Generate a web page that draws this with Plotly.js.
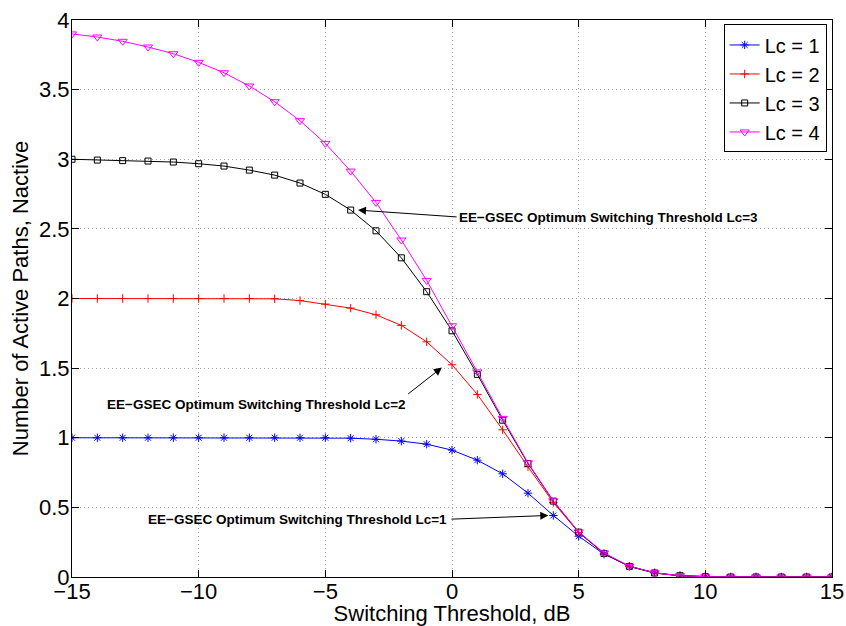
<!DOCTYPE html>
<html>
<head>
<meta charset="utf-8">
<script src="https://cdn.plot.ly/plotly-3.0.1.min.js"></script>
<style>html,body{margin:0;padding:0;background:#fff;}#chart{width:846px;height:626px;}</style>
</head>
<body>
<div id="chart"></div>
<script>
// Switching threshold (dB)
const thresholdDb = [-15,-14,-13,-12,-11,-10,-9,-8,-7,-6,-5,-4,-3,-2,-1,0,1,2,3,4,5,6,7,8,9,10,11,12,13,14,15];
// Number of active paths per Lc
const lc1 = [1.0,1.0,1.0,1.0,1.0,1.0,1.0,1.0,1.0,1.0,1.0,0.997,0.989,0.976,0.954,0.911,0.839,0.741,0.602,0.442,0.293,0.164,0.078,0.030,0.009,0.002,0,0,0,0,0];
const lc2 = [2.0,2.0,2.0,2.0,2.0,2.0,2.0,2.0,1.998,1.985,1.96,1.931,1.883,1.807,1.689,1.524,1.311,1.057,0.791,0.535,0.320,0.170,0.076,0.029,0.009,0.002,0,0,0,0,0];
const lc3 = [3.0,2.994,2.99,2.987,2.98,2.968,2.951,2.922,2.886,2.829,2.748,2.635,2.486,2.292,2.049,1.768,1.455,1.126,0.815,0.545,0.322,0.169,0.076,0.029,0.009,0.002,0,0,0,0,0];
const lc4 = [3.90,3.878,3.847,3.806,3.758,3.696,3.621,3.526,3.413,3.277,3.114,2.915,2.69,2.42,2.13,1.804,1.473,1.139,0.82,0.547,0.324,0.173,0.078,0.030,0.009,0.002,0,0,0,0,0];
const seriesNames = ['Lc = 1','Lc = 2','Lc = 3','Lc = 4'];
const xTickVals = [-15,-10,-5,0,5,10,15];
const yTickVals = [0,0.5,1,1.5,2,2.5,3,3.5,4];
const noteText = ['EE\u2212GSEC Optimum Switching Threshold Lc=1','EE\u2212GSEC Optimum Switching Threshold Lc=2','EE\u2212GSEC Optimum Switching Threshold Lc=3'];

const FONT = '"Liberation Sans", Arial, Helvetica, sans-serif';
const styles = [
  {color:'#0000ff', symbol:'asterisk-open', size:7},
  {color:'#ff0000', symbol:'cross-thin-open', size:6},
  {color:'#000000', symbol:'square-open', size:6},
  {color:'#ff00ff', symbol:'triangle-down-open', size:8}
];
const ys = [lc1, lc2, lc3, lc4];
const traces = ys.map((y,i)=>({
  x: thresholdDb, y: y, name: seriesNames[i], type:'scatter', mode:'lines+markers',
  line:{color:styles[i].color, width:1},
  marker:{symbol:styles[i].symbol, size:styles[i].size, color:styles[i].color, line:{color:styles[i].color, width:1}}
}));

// annotation anchors derived from the data points they point to
const i1 = thresholdDb.indexOf(4), i2 = thresholdDb.indexOf(0), i3 = thresholdDb.indexOf(-4);
const arrows = [
  {x: thresholdDb[i1]-0.2, y: lc1[i1], ax: -0.08, ay: 0.415},
  {x: thresholdDb[i2]-0.4, y: lc2[i2]-0.02, ax: -1.79, ay: 1.306},
  {x: thresholdDb[i3]+0.29, y: lc3[i3], ax: 0.24, ay: 2.585}
];
const annotations = [];
arrows.forEach(a=>{
  annotations.push({x:a.x, y:a.y, xref:'x', yref:'y', ax:a.ax, ay:a.ay, axref:'x', ayref:'y',
    text:'', showarrow:true, arrowhead:2, arrowsize:1.6, arrowwidth:1, arrowcolor:'#000'});
});
const noteFont = {family:FONT, size:13.5, color:'#000', weight:'bold'};
annotations.push({x:-0.12, y:0.415, xref:'x', yref:'y', xanchor:'right', yanchor:'middle', showarrow:false,
  text:noteText[0], font:noteFont});
annotations.push({x:-1.75, y:1.241, xref:'x', yref:'y', xanchor:'right', yanchor:'middle', showarrow:false,
  text:noteText[1], font:noteFont});
annotations.push({x:0.2, y:2.585, xref:'x', yref:'y', xanchor:'left', yanchor:'middle', showarrow:false,
  text:noteText[2], font:noteFont});

const axisCommon = {
  showline:true, linecolor:'#000', linewidth:1, mirror:'ticks', ticks:'inside', ticklen:7, tickcolor:'#000',
  showgrid:true, gridcolor:'#a8a8a8', griddash:'1px,3px', gridwidth:1, zeroline:false,
  tickfont:{family:FONT, size:22, color:'#000'}
};
const layout = {
  width:846, height:626,
  margin:{l:72, r:14, t:20, b:49},
  paper_bgcolor:'#fff', plot_bgcolor:'#fff',
  font:{family:FONT, color:'#000'},
  showlegend:true,
  legend:{x:0.993, y:0.992, xanchor:'right', yanchor:'top', bgcolor:'#fff', bordercolor:'#000', borderwidth:1,
    font:{family:FONT, size:20, color:'#000'}, itemwidth:30, tracegroupgap:0},
  xaxis:Object.assign({}, axisCommon, {range:[-15,15], tickvals:xTickVals, ticklabelstandoff:-5,
    title:{text:'Switching Threshold, dB', font:{family:FONT, size:22, color:'#000'}, standoff:2}}),
  yaxis:Object.assign({}, axisCommon, {range:[0,4], tickvals:yTickVals, ticklabelstandoff:-3,
    title:{text:'Number of Active Paths, Nactive', font:{family:FONT, size:22, color:'#000'}, standoff:4}}),
  annotations: annotations
};
Plotly.newPlot('chart', traces, layout, {staticPlot:true, displayModeBar:false});
</script>
</body>
</html>
